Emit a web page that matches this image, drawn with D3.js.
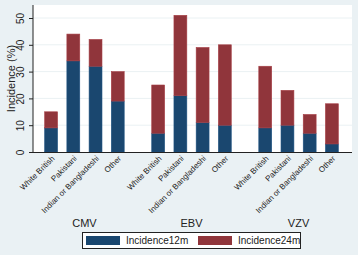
<!DOCTYPE html>
<html>
<head>
<meta charset="utf-8">
<script src="https://cdn.jsdelivr.net/npm/d3@7"></script>
<style>
  html, body { margin: 0; padding: 0; background: #eaf1f4; }
  svg { display: block; font-family: "Liberation Sans", Arial, sans-serif; }
</style>
</head>
<body>
<div id="chart"></div>
<script>
// groups (virus) and ethnic categories
const groups = ["CMV", "EBV", "VZV"];
const categories = ["White British", "Pakistani", "Indian or Bangladeshi", "Other"];
const seriesNames = ["Incidence12m", "Incidence24m"];
const yTicks = [0, 10, 20, 30, 40, 50];

// bottom segment (12m) and stacked segment on top (24m), per group, in category order
const incidence12m = {
  CMV: [9, 34, 32, 19],
  EBV: [7, 21, 11, 10],
  VZV: [9, 10, 7, 3]
};
const incidence24m = {
  CMV: [6, 10, 10, 11],
  EBV: [18, 30, 28, 30],
  VZV: [23, 13, 7, 15]
};

const colors = ["#1a476f", "#90353b"];

const svgWidth = 358, svgHeight = 255;
const plot = { left: 33, right: 352, top: 5, bottom: 152 };

const svg = d3.select("#chart")
  .append("svg")
  .attr("width", svgWidth)
  .attr("height", svgHeight);

// outer background
svg.append("rect")
  .attr("width", svgWidth)
  .attr("height", svgHeight)
  .attr("fill", "#eaf1f4");

// plot region
svg.append("rect")
  .attr("x", plot.left)
  .attr("y", plot.top)
  .attr("width", plot.right - plot.left)
  .attr("height", plot.bottom - plot.top)
  .attr("fill", "#ffffff");

const y = d3.scaleLinear()
  .domain([0, 50])
  .range([plot.bottom, 18]);

const x0 = d3.scaleBand()
  .domain(groups)
  .range([40, 343])
  .paddingInner(0.17)
  .paddingOuter(0);

const x1 = d3.scaleBand()
  .domain(categories)
  .range([0, x0.bandwidth()])
  .paddingInner(0.42)
  .paddingOuter(0.21);

// gridlines
svg.append("g")
  .selectAll("line")
  .data(yTicks.filter(d => d > 0))
  .enter()
  .append("line")
  .attr("x1", plot.left)
  .attr("x2", plot.right)
  .attr("y1", d => y(d))
  .attr("y2", d => y(d))
  .attr("stroke", "#eaf1f3")
  .attr("stroke-width", 1);

// build stacked rows
const rows = [];
groups.forEach(g => {
  categories.forEach((c, i) => {
    rows.push({ group: g, cat: c, Incidence12m: incidence12m[g][i], Incidence24m: incidence24m[g][i] });
  });
});
const stacked = d3.stack().keys(seriesNames)(rows);

stacked.forEach((layer, li) => {
  svg.append("g")
    .selectAll("rect")
    .data(layer)
    .enter()
    .append("rect")
    .attr("x", d => x0(d.data.group) + x1(d.data.cat))
    .attr("y", d => y(d[1]))
    .attr("width", x1.bandwidth())
    .attr("height", d => y(d[0]) - y(d[1]))
    .attr("fill", colors[li])
    .attr("stroke", d3.color(colors[li]).brighter(0.4))
    .attr("stroke-width", 0.6);
});

// y axis
const yAxis = svg.append("g")
  .attr("transform", "translate(" + plot.left + ",0)")
  .call(d3.axisLeft(y).tickValues(yTicks).tickSize(4).tickPadding(3));
yAxis.select(".domain").attr("stroke", "#222").attr("d", "M0," + plot.top + "V" + plot.bottom);
yAxis.selectAll(".tick line").attr("stroke", "#222");
yAxis.selectAll(".tick text")
  .attr("transform", "rotate(-90)")
  .attr("x", 0)
  .attr("y", -9)
  .attr("dy", 0)
  .attr("text-anchor", "middle")
  .style("font-size", "10px")
  .attr("fill", "#222");

svg.append("text")
  .attr("transform", "rotate(-90)")
  .attr("x", -(plot.top + plot.bottom) / 2)
  .attr("y", 15)
  .attr("text-anchor", "middle")
  .style("font-size", "11px")
  .attr("fill", "#222")
  .text("Incidence (%)");

// x axis line
svg.append("line")
  .attr("x1", plot.left)
  .attr("x2", plot.right)
  .attr("y1", plot.bottom + 0.5)
  .attr("y2", plot.bottom + 0.5)
  .attr("stroke", "#222");

// category labels
svg.append("g")
  .selectAll("text")
  .data(rows)
  .enter()
  .append("text")
  .attr("transform", d => {
    const cx = x0(d.group) + x1(d.cat) + x1.bandwidth() / 2 + 2;
    return "translate(" + cx + "," + (plot.bottom + 5) + ") rotate(-45)";
  })
  .attr("text-anchor", "end")
  .attr("dy", "0.35em")
  .style("font-size", "8px")
  .attr("fill", "#222")
  .text(d => d.cat);

// group labels
svg.append("g")
  .selectAll("text")
  .data(groups)
  .enter()
  .append("text")
  .attr("x", d => x0(d) + x0.bandwidth() / 2)
  .attr("y", 227)
  .attr("text-anchor", "middle")
  .style("font-size", "11px")
  .attr("fill", "#222")
  .text(d => d);

// legend
const legend = svg.append("g");
legend.append("rect")
  .attr("x", 82.5)
  .attr("y", 232.5)
  .attr("width", 218)
  .attr("height", 16)
  .attr("fill", "#fff")
  .attr("stroke", "#222");

const legX = [86, 198];
seriesNames.forEach((s, i) => {
  legend.append("rect")
    .attr("x", legX[i])
    .attr("y", 236)
    .attr("width", 34)
    .attr("height", 9)
    .attr("fill", colors[i]);
  legend.append("text")
    .attr("x", legX[i] + 40)
    .attr("y", 244)
    .style("font-size", "10px")
    .attr("fill", "#222")
    .text(s);
});
</script>
</body>
</html>
